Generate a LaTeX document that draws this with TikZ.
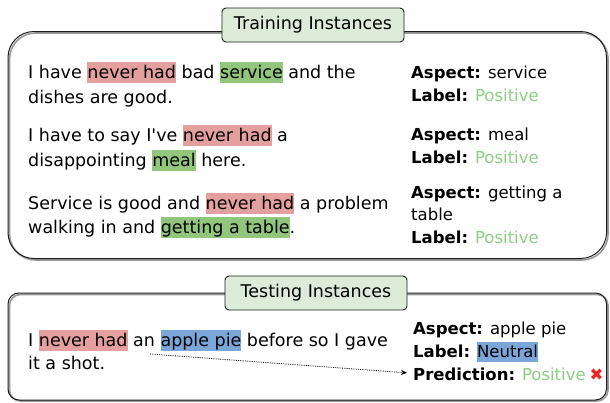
\documentclass[tikz,border=0pt]{standalone}
\usepackage{fontspec}
\setmainfont{DejaVu Sans}
\usetikzlibrary{arrows.meta}
\definecolor{hlred}{RGB}{228,160,158}
\definecolor{hlgreen}{RGB}{146,198,124}
\definecolor{hlblue}{RGB}{122,166,218}
\definecolor{posgreen}{RGB}{140,206,130}
\definecolor{titlefill}{RGB}{221,236,217}
\definecolor{xred}{RGB}{232,36,36}
\definecolor{framecol}{RGB}{30,30,30}
\newcommand\hlt[2]{{\setlength{\fboxsep}{0pt}\colorbox{#1}{\rule[-0.28em]{0pt}{1.2em}#2}}}
\newcommand\pos{\textcolor{posgreen}{Positive}}
\begin{document}
\begin{tikzpicture}[x=1pt,y=-1pt,
  txt/.style={anchor=base west, inner sep=0pt, font=\fontsize{17.5}{20}\selectfont},
  rtxt/.style={anchor=base west, inner sep=0pt, font=\fontsize{16.5}{20}\selectfont},
  frame/.style={draw=framecol, line width=1pt},
  shadowline/.style={draw=black!40, line width=1.6pt},
  title/.style={draw=framecol, line width=0.9pt, fill=titlefill, rounded corners=4pt,
    minimum width=182pt, minimum height=34pt, inner sep=0pt, font=\fontsize{17.5}{20}\selectfont}]
\fill[white] (0,0) rectangle (610,402);
\useasboundingbox (0,0) rectangle (610,402);
% training
\draw[shadowline, rounded corners=26pt] (9.5,33) rectangle (608,260);
\draw[frame, rounded corners=26pt] (8,31.5) rectangle (606.5,258.5);
\node[title] (trtitle) at (313,25) {Training Instances};
\node[txt] (s1a) at (28,78) {I have \hlt{hlred}{never had} bad \hlt{hlgreen}{service} and the};
\node[txt] (s1b) at (28,103) {dishes are good.};
\node[txt] (s2a) at (28,141) {I have to say I\textquotesingle ve \hlt{hlred}{never had} a};
\node[txt] (s2b) at (28,166) {disappointing \hlt{hlgreen}{meal} here.};
\node[txt] (s3a) at (28,209) {Service is good and \hlt{hlred}{never had} a problem};
\node[txt] (s3b) at (28,233) {walking in and \hlt{hlgreen}{getting a table}.};
\node[rtxt] (a1) at (411,78) {\textbf{Aspect:} service};
\node[rtxt] (l1) at (411,101) {\textbf{Label:} \pos};
\node[rtxt] (a2) at (411,140) {\textbf{Aspect:} meal};
\node[rtxt] (l2) at (411,163) {\textbf{Label:} \pos};
\node[rtxt] (a3) at (411,198) {\textbf{Aspect:} getting a};
\node[rtxt] (a3b) at (411,220) {table};
\node[rtxt] (l3) at (411,243) {\textbf{Label:} \pos};
% testing
\draw[shadowline, rounded corners=11pt] (9.5,294.5) rectangle (608,401);
\draw[frame, rounded corners=11pt] (8,293) rectangle (606.5,400);
\node[title] (tetitle) at (316,293) {Testing Instances};
\node[txt] (t1a) at (28,346) {I \hlt{hlred}{never had} an \hlt{hlblue}{apple pie} before so I gave};
\node[txt] (t1b) at (28,369) {it a shot.};
\node[rtxt] (ta) at (413,334) {\textbf{Aspect:} apple pie};
\node[rtxt] (tl) at (413,357) {\textbf{Label:} \hlt{hlblue}{Neutral}};
\node[rtxt] (tp) at (413,380) {\textbf{Prediction:} \pos\hspace{4pt}\textcolor{xred}{✖}};
\coordinate (arrstart) at (150,354);
\draw[densely dotted, line width=0.8pt, -{Stealth[length=6pt,width=5pt]}] (arrstart) -- ([xshift=-6pt,yshift=1pt]tp.west);
\end{tikzpicture}
\end{document}
